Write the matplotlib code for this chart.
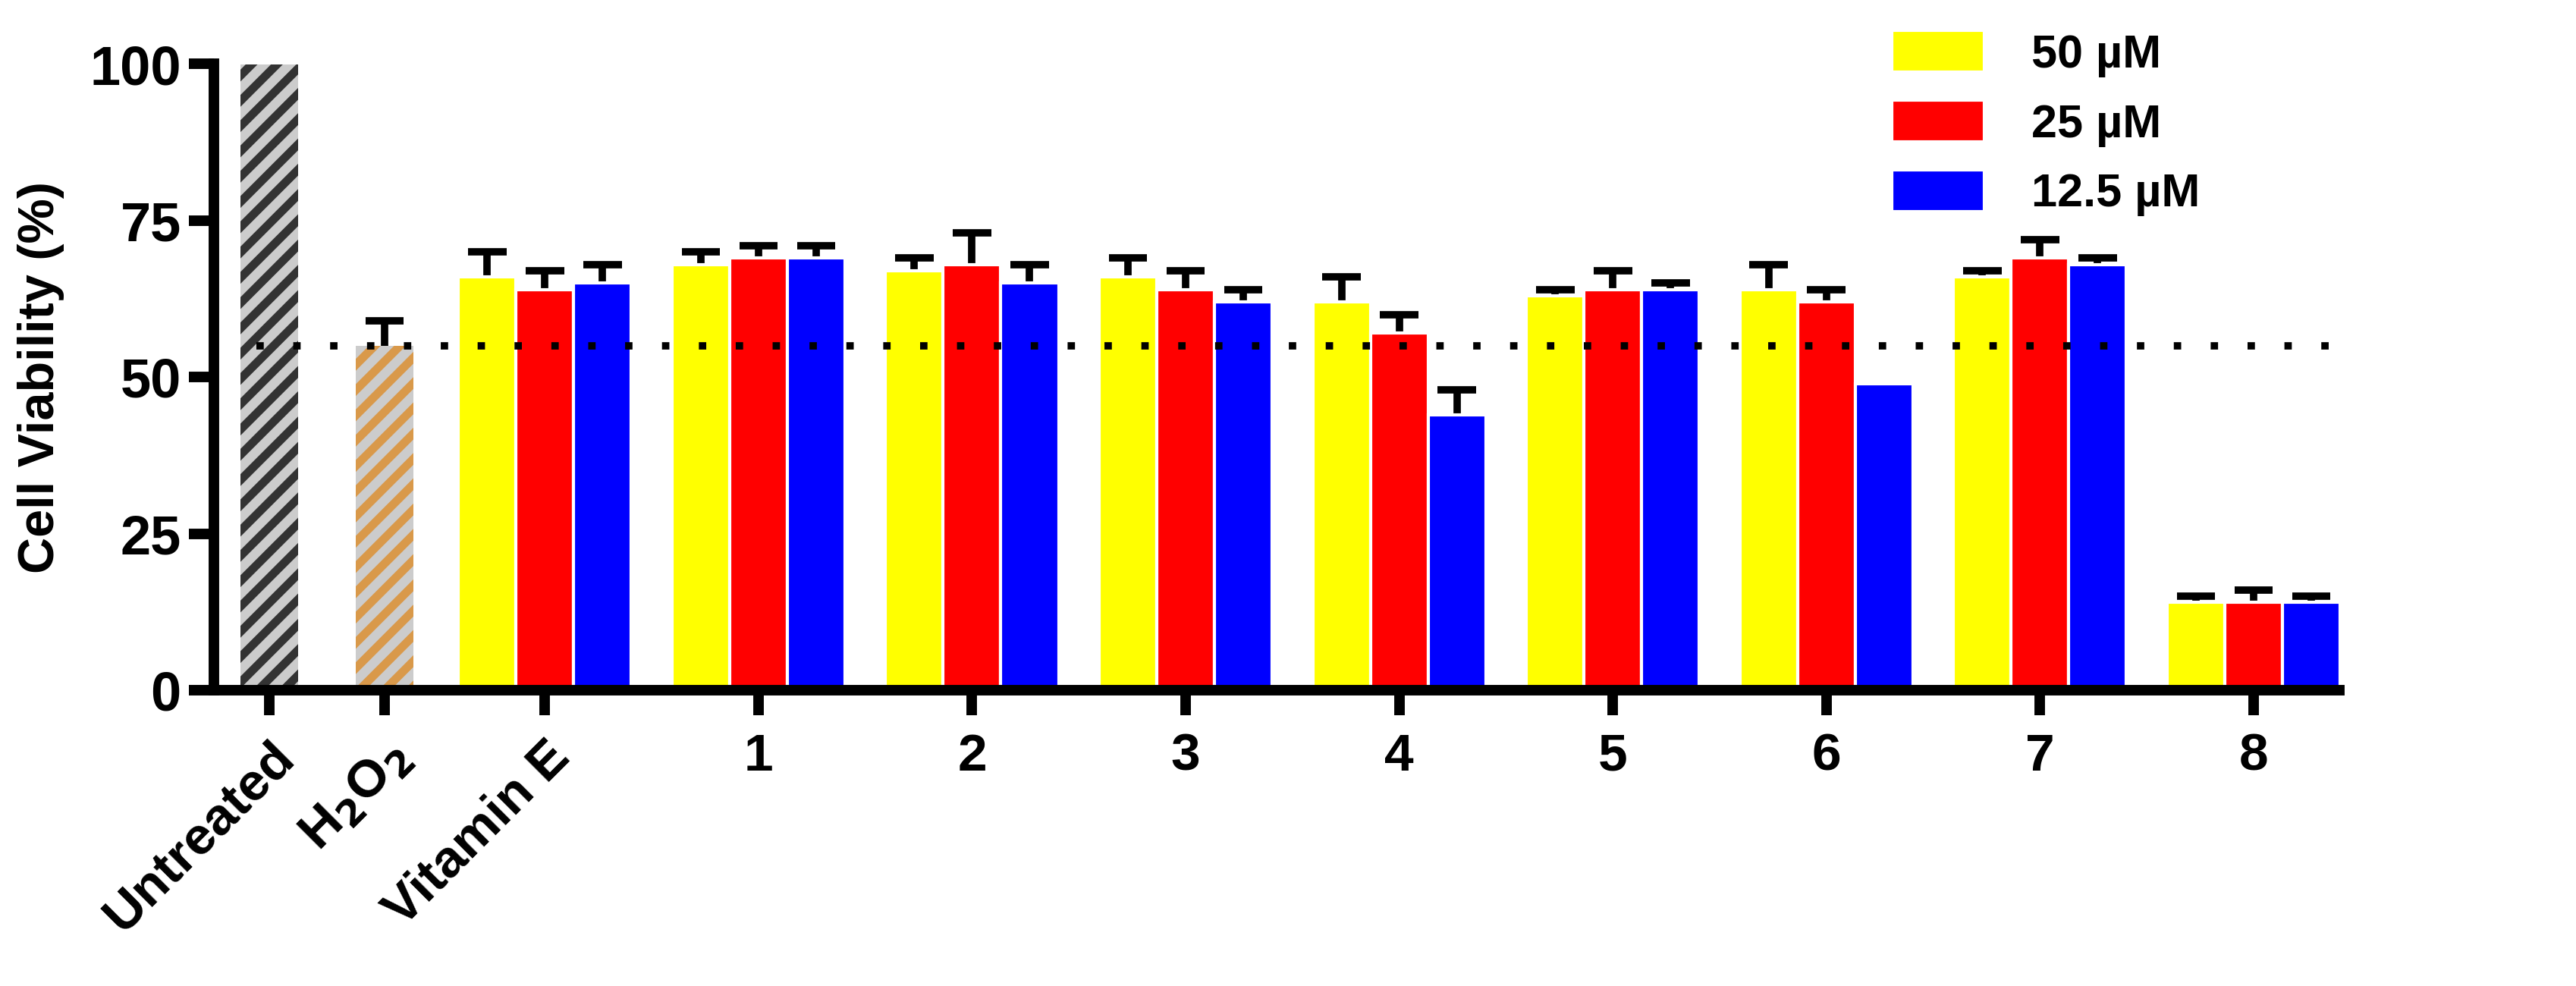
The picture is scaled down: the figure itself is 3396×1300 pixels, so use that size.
import numpy as np
import matplotlib.pyplot as plt
import matplotlib as mpl

plt.rcParams['font.family'] = ['Liberation Sans', 'DejaVu Sans']
plt.rcParams['font.weight'] = 'bold'
mpl.rcParams['hatch.linewidth'] = 4.5

groups = ['Vitamin E', '1', '2', '3', '4', '5', '6', '7', '8']
series = ['50 µM', '25 µM', '12.5 µM']
colors = ['#ffff00', '#ff0000', '#0000ff']
means = [
    [66, 68, 67, 66, 62, 63, 64, 66, 14],
    [64, 69, 68, 64, 57, 64, 62, 69, 14],
    [65, 69, 65, 62, 44, 64, 49, 68, 14],
]
errs = [
    [4, 2, 2, 3, 4, 1, 4, 1, 1],
    [3, 2, 5, 3, 3, 3, 2, 3, 2],
    [3, 2, 3, 2, 4, 1, 0, 1, 1],
]
ctrl_labels = ['Untreated', 'H$_2$O$_2$']
ctrl_vals = [100, 55]
ctrl_errs = [0, 4]
threshold = 55

fig = plt.figure(figsize=(16.98, 6.5), dpi=200)
ax = fig.add_axes([0.083, 0.30, 0.825, 0.635])

w = 0.27
cap = 0.09


def upper_err(xs, ys, es):
    # only the upper half of the error bar, as in the original
    xs, ys, es = np.asarray(xs), np.asarray(ys), np.asarray(es)
    m = es > 0
    ax.vlines(xs[m], ys[m], ys[m] + es[m], color='k', linewidth=3.5, zorder=1)
    ax.hlines(ys[m] + es[m], xs[m] - cap, xs[m] + cap, color='k', linewidth=3.5, zorder=1)


ctrl_x = [-1.29, -0.75]
ax.bar(ctrl_x[0], ctrl_vals[0], w, color='#333333', edgecolor='#cccccc', hatch='//', linewidth=0, zorder=2)
ax.bar(ctrl_x[1], ctrl_vals[1], w, color='#d9994a', edgecolor='#cccccc', hatch='//', linewidth=0, zorder=2)
upper_err(ctrl_x, ctrl_vals, ctrl_errs)

x = np.arange(len(groups))
for i in range(3):
    xi = x + (i - 1) * w
    ax.bar(xi, means[i], w, color=colors[i], edgecolor='white', linewidth=1.5, label=series[i], zorder=2)
    upper_err(xi, means[i], errs[i])

ax.axhline(threshold, color='k', linestyle=(0, (1, 4)), linewidth=3.5, xmin=0.02, xmax=1, zorder=3)

ax.set_xlim(-1.55, 8.4)
ax.set_ylim(0, 100)
ax.set_yticks([0, 25, 50, 75, 100])
ax.set_xticks(list(ctrl_x) + list(x))
labels = ax.set_xticklabels(ctrl_labels + groups, fontsize=25)
for lab in labels[:3]:
    lab.set_rotation(45)
    lab.set_ha('right')
    lab.set_rotation_mode('anchor')
ax.tick_params(axis='y', labelsize=26, width=5, length=12)
ax.tick_params(axis='x', width=5, length=12, pad=8)
for s in ['top', 'right']:
    ax.spines[s].set_visible(False)
for s in ['left', 'bottom']:
    ax.spines[s].set_linewidth(5)
ax.set_ylabel('Cell Viability (%)', fontsize=24, fontweight='bold', labelpad=12)
ax.legend(loc='upper left', bbox_to_anchor=(0.77, 1.12), frameon=False, fontsize=22,
          handlelength=2.0, handleheight=1.0, labelspacing=0.5, handletextpad=1.0)

fig.savefig('out.png', dpi=200)
